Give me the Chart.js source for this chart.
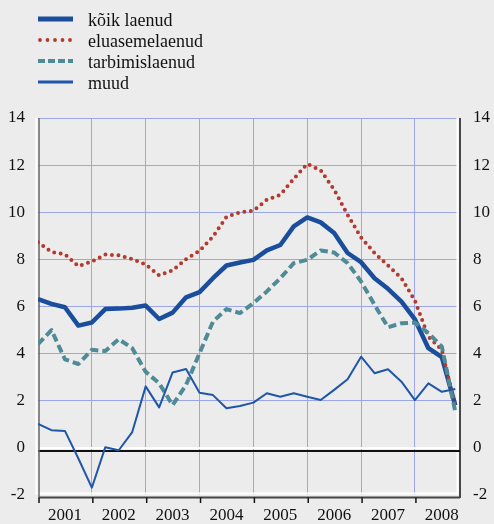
<!DOCTYPE html>
<html>
<head>
<meta charset="utf-8">
<script src="https://cdn.jsdelivr.net/npm/chart.js@4.4.1/dist/chart.umd.min.js"></script>
<style>
  html, body { margin: 0; padding: 0; background: #ececec; }
  #wrap { position: relative; width: 494px; height: 524px; }
  #myChart { position: absolute; left: 0; top: 0; }
  .row { position: absolute; left: 0; height: 20px; line-height: 20px; font: 18px "Liberation Serif", serif; color: #111; white-space: nowrap; }
  .row svg { position: absolute; left: 38px; top: 5px; }
  .row span { position: absolute; left: 88px; top: 0; }
</style>
</head>
<body>
<div id="wrap">
  <canvas id="myChart" width="494" height="524"></canvas>
  <div class="row" style="top:10px"><svg width="36" height="8"><line x1="0" y1="4" x2="35" y2="4" stroke="#1a4d9c" stroke-width="5"/></svg><span>kõik laenud</span></div>
  <div class="row" style="top:31px"><svg width="36" height="8"><line x1="2" y1="4" x2="35" y2="4" stroke="#b23a2f" stroke-width="3.8" stroke-dasharray="0 7.5" stroke-linecap="round"/></svg><span>eluasemelaenud</span></div>
  <div class="row" style="top:52px"><svg width="36" height="8"><line x1="0" y1="4" x2="35" y2="4" stroke="#4f8b96" stroke-width="4" stroke-dasharray="7 3"/></svg><span>tarbimislaenud</span></div>
  <div class="row" style="top:73px"><svg width="36" height="8"><line x1="0" y1="4" x2="35" y2="4" stroke="#1f56a8" stroke-width="3"/></svg><span>muud</span></div>
</div>
<script>
// data (quarterly, 2001 Q1 .. 2008 Q4)
const years = ['2001', '2002', '2003', '2004', '2005', '2006', '2007', '2008'];
const quarters = years.flatMap(y => ['I', 'II', 'III', 'IV'].map(q => y + ' ' + q));

const koik = [6.31, 6.11, 5.97, 5.19, 5.32, 5.89, 5.91, 5.95, 6.04, 5.47, 5.74, 6.39,
  6.61, 7.2, 7.74, 7.87, 7.98, 8.38, 8.61, 9.4, 9.78, 9.57, 9.12, 8.27,
  7.88, 7.2, 6.75, 6.21, 5.45, 4.23, 3.85, 1.8];
const eluase = [8.73, 8.31, 8.22, 7.71, 7.91, 8.21, 8.17, 8.01, 7.78, 7.32, 7.53, 8.01,
  8.36, 8.97, 9.8, 10.0, 10.06, 10.53, 10.74, 11.42, 12.05, 11.78, 10.96, 9.89,
  8.93, 8.27, 7.74, 7.2, 6.25, 4.72, 4.16, 1.73];
const tarbimis = [4.4, 5.0, 3.76, 3.56, 4.16, 4.11, 4.61, 4.23, 3.23, 2.74, 1.82, 2.67,
  4.02, 5.36, 5.89, 5.72, 6.14, 6.64, 7.2, 7.84, 7.98, 8.38, 8.29, 7.84,
  7.06, 6.07, 5.12, 5.29, 5.32, 4.87, 4.3, 1.53];
const muud = [1.02, 0.75, 0.72, -0.45, -1.69, 0.03, -0.1, 0.67, 2.61, 1.72, 3.2, 3.35,
  2.34, 2.24, 1.68, 1.78, 1.92, 2.32, 2.17, 2.32, 2.17, 2.03, 2.46, 2.91,
  3.87, 3.17, 3.34, 2.81, 2.03, 2.74, 2.38, 2.5];

const yTicks = [-2, 0, 2, 4, 6, 8, 10, 12, 14];
const xTicks = [0, 2, 4, 6, 8, 10, 12, 14, 16, 18, 20, 22, 24, 26, 28, 30];

const gridColor = '#9ca6e6';
const tickFont = { family: 'Liberation Serif', size: 17 };

const toPoints = arr => arr.map((v, i) => ({ x: i, y: v, q: quarters[i] }));

// frame: white edges, dark shadow lines, zero line, year tick marks
const framePlugin = {
  id: 'frame',
  beforeDatasetsDraw(chart) {
    const c = chart.ctx;
    const { left, right, top, bottom } = chart.chartArea;
    const y0 = chart.scales.y.getPixelForValue(0);
    const line = (x1, y1, x2, y2) => { c.beginPath(); c.moveTo(x1, y1); c.lineTo(x2, y2); c.stroke(); };
    c.save();
    c.strokeStyle = '#ffffff';
    c.lineWidth = 2;
    line(left - 1.5, top, left - 1.5, bottom);
    line(left, y0, right, y0);
    line(left, bottom - 1.5, right, bottom - 1.5);
    line(right - 0.5, top, right - 0.5, bottom);
    c.strokeStyle = '#111';
    c.lineWidth = 2;
    line(left, y0 + 3, right + 2, y0 + 3);
    c.lineWidth = 1.5;
    line(right + 2, top, right + 2, bottom + 3);
    c.strokeStyle = '#444';
    c.lineWidth = 2;
    line(left + 1, bottom + 2.5, right + 2, bottom + 2.5);
    c.strokeStyle = '#666';
    c.lineWidth = 1.5;
    line(left + 1, top, left + 1, bottom + 3);
    c.strokeStyle = '#111';
    c.lineWidth = 1.5;
    for (let v = 0; v < quarters.length; v += 4) {
      const x = chart.scales.x.getPixelForValue(v) + 1;
      line(x, bottom + 2.5, x, bottom + 8);
    }
    c.restore();
  }
};

new Chart(document.getElementById('myChart'), {
  type: 'line',
  data: {
    datasets: [
      { label: 'muud', data: toPoints(muud), borderColor: '#1f56a8', borderWidth: 2 },
      { label: 'tarbimislaenud', data: toPoints(tarbimis), borderColor: '#4f8b96', borderWidth: 4, borderDash: [8, 4] },
      { label: 'eluasemelaenud', data: toPoints(eluase), borderColor: '#b23a2f', borderWidth: 4, borderDash: [0, 6.5], borderCapStyle: 'round' },
      { label: 'kõik laenud', data: toPoints(koik), borderColor: '#1a4d9c', borderWidth: 4.5 }
    ]
  },
  options: {
    responsive: false,
    animation: false,
    devicePixelRatio: 1,
    layout: { padding: { top: 118, left: 0, right: 0, bottom: 0 } },
    elements: { point: { radius: 0 }, line: { tension: 0, borderJoinStyle: 'round' } },
    plugins: { legend: { display: false }, tooltip: { enabled: false } },
    scales: {
      x: {
        type: 'linear',
        min: 0,
        max: 31.2,
        afterBuildTicks: s => { s.ticks = xTicks.map(v => ({ value: v })); },
        afterFit: s => { s.height = 29; },
        grid: {
          color: ctx => (ctx.tick && ctx.tick.value % 4 === 0 && ctx.tick.value > 0) ? gridColor : 'transparent',
          lineWidth: 1,
          drawTicks: false
        },
        border: { display: false },
        ticks: {
          autoSkip: false,
          maxRotation: 0,
          padding: 10,
          color: '#111',
          font: tickFont,
          callback: v => (v % 4 === 2 ? years[(v - 2) / 4] : '')
        }
      },
      y: {
        position: 'left',
        min: -2,
        max: 14,
        afterBuildTicks: s => { s.ticks = yTicks.map(v => ({ value: v })); },
        afterFit: s => { s.width = 38; },
        grid: {
          color: ctx => (ctx.tick && ctx.tick.value > 0) ? gridColor : 'transparent',
          lineWidth: 1,
          drawTicks: false
        },
        border: { display: false },
        ticks: { padding: 13, color: '#111', font: tickFont }
      },
      y2: {
        position: 'right',
        min: -2,
        max: 14,
        afterBuildTicks: s => { s.ticks = yTicks.map(v => ({ value: v })); },
        afterFit: s => { s.width = 36; },
        grid: { display: false, drawTicks: false },
        border: { display: false },
        ticks: { padding: 15, color: '#111', font: tickFont }
      }
    }
  },
  plugins: [framePlugin]
});
</script>
</body>
</html>
